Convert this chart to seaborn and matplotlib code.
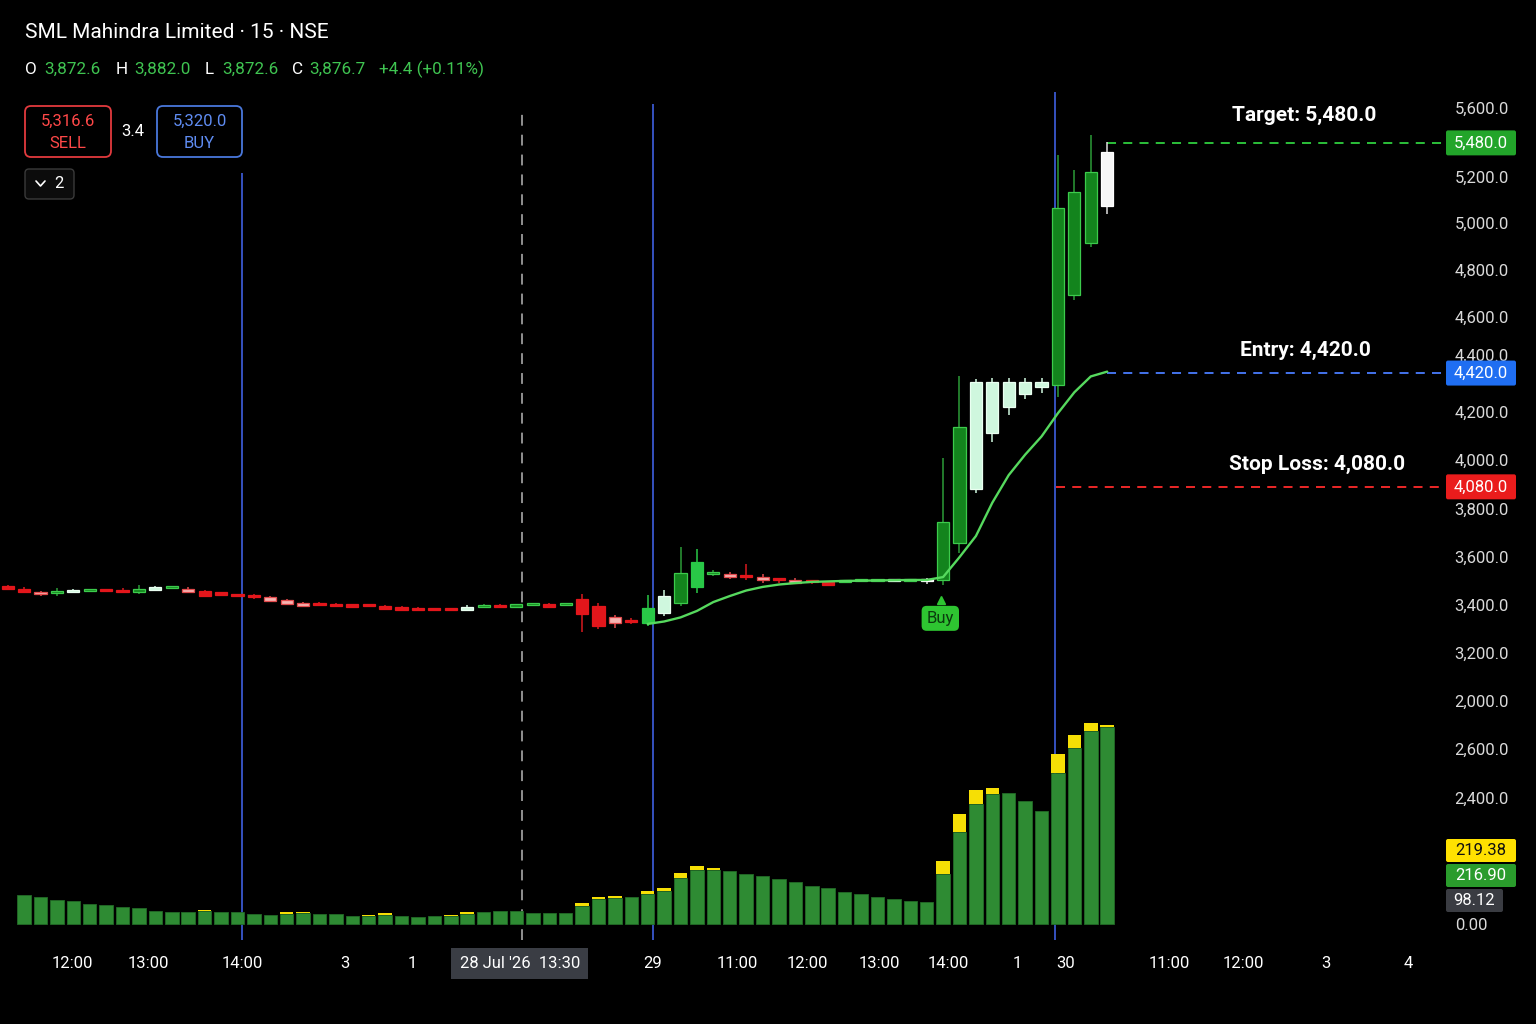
import numpy as np
import pandas as pd
import seaborn as sns
import matplotlib
matplotlib.use("Agg")
import matplotlib.pyplot as plt
from matplotlib.patches import FancyBboxPatch
from matplotlib.lines import Line2D
from matplotlib.transforms import IdentityTransform, offset_copy

W, H, DPI = 1536, 1024, 100

# ---------------- data ----------------
candle_open = [3472, 3464, 3451, 3447, 3451, 3452, 3457, 3459, 3451, 3459,
               3467, 3464, 3456, 3441, 3436, 3437, 3429, 3418, 3405, 3403,
               3398, 3395, 3393, 3393, 3387, 3382, 3378, 3376, 3376, 3386,
               3395, 3389, 3394, 3398, 3394, 3420, 3392, 3345, 3333, 3320,
               3361, 3405, 3470, 3526, 3525, 3516, 3514, 3501, 3500, 3492,
               3493, 3491, 3494, 3495, 3496, 3496, 3496, 3500, 3653, 3878,
               4111, 4220, 4275, 4305, 4312, 4688, 4905, 5058]
candle_high = [3479, 3470, 3456, 3468, 3462, 3462, 3461, 3468, 3480, 3476,
               3474, 3470, 3458, 3446, 3441, 3441, 3434, 3422, 3409, 3407,
               3402, 3399, 3397, 3397, 3391, 3386, 3381, 3379, 3395, 3398,
               3399, 3396, 3400, 3402, 3401, 3440, 3405, 3354, 3343, 3437,
               3458, 3636, 3628, 3542, 3535, 3565, 3525, 3510, 3510, 3497,
               3497, 3497, 3499, 3500, 3500, 3500, 3510, 4008, 4350, 4336,
               4340, 4340, 4340, 4340, 5271, 5208, 5354, 5326]
candle_low = [3458, 3444, 3432, 3434, 3448, 3449, 3451, 3444, 3443, 3456,
              3463, 3446, 3428, 3434, 3429, 3422, 3409, 3396, 3388, 3390,
              3386, 3385, 3387, 3375, 3372, 3371, 3373, 3372, 3372, 3382,
              3382, 3385, 3390, 3383, 3391, 3285, 3295, 3299, 3317, 3308,
              3350, 3392, 3447, 3517, 3503, 3500, 3489, 3489, 3482, 3485,
              3475, 3487, 3490, 3492, 3493, 3493, 3485, 3479, 3611, 3864,
              4076, 4187, 4253, 4280, 4264, 4667, 4889, 5025]
candle_close = [3464, 3451, 3440, 3449, 3459, 3459, 3455, 3451, 3464, 3472,
                3469, 3450, 3432, 3439, 3434, 3427, 3414, 3400, 3392, 3395,
                3390, 3389, 3391, 3379, 3376, 3374, 3376, 3375, 3388, 3392,
                3386, 3391, 3396, 3387, 3396, 3358, 3308, 3322, 3326, 3382,
                3433, 3530, 3575, 3530, 3511, 3512, 3500, 3499, 3489, 3490,
                3479, 3493, 3496, 3497, 3497, 3497, 3499, 3743, 4139, 4326,
                4326, 4326, 4326, 4326, 5049, 5118, 5201, 5282]
candle_style = list("RRPGLGRRGLGPRRRRPPPRRRRRRRRRLGRGGRGRRPRBLGBGPRPRPRRGGGLGWGGLLLLLGGGW")

ma_start = 39
ma_values = [3317, 3327, 3344, 3371, 3408, 3433, 3456, 3471, 3481, 3487,
             3492, 3494, 3496, 3497, 3498, 3499, 3500, 3500, 3512, 3595,
             3683, 3822, 3937, 4022, 4098, 4195, 4282, 4348, 4368]

vol_start = 1
vol_green = [31.9, 29.4, 26.7, 25.0, 22.0, 21.2, 19.0, 17.6, 14.0, 12.9,
             12.9, 14.0, 12.9, 12.9, 11.3, 9.9, 10.7, 11.8, 11.3, 10.7,
             8.8, 8.5, 9.6, 9.1, 8.0, 8.5, 8.8, 11.3, 13.2, 14.3,
             14.0, 12.1, 12.1, 12.1, 19.8, 27.2, 28.3, 30.0, 33.3, 36.3,
             50.9, 59.1, 59.7, 58.0, 55.3, 53.1, 49.5, 46.5, 42.1, 39.3,
             35.2, 32.7, 29.7, 27.0, 25.6, 24.2, 54.7, 101.5, 132.0, 143.0,
             143.8, 135.6, 124.6, 166.4, 193.9, 212.3, 216.9]
vol_yellow = [0, 0, 0, 0, 0, 0, 0, 0, 0, 0,
              0, 1.1, 0, 0, 0, 0, 2.2, 1.1, 0, 0,
              0, 1.8, 2.9, 0, 0, 0, 1.1, 2.2, 0, 0,
              0, 0, 0, 0, 3.3, 2.5, 2.9, 0, 3.3, 3.0,
              5.2, 4.7, 2.2, 0, 0, 0, 0, 0, 0, 0,
              0, 0, 0, 0, 0, 0, 14.6, 19.5, 15.4, 6.6,
              0, 0, 0, 20.2, 14.3, 8.5, 2.48]

xtick_pos = [3.92, 8.55, 14.28, 20.55, 24.64, 31.2, 39.32, 44.44, 48.71,
             53.1, 57.3, 61.5, 64.49, 70.77, 75.28, 80.34, 85.33]
xtick_labels = ["12:00", "13:00", "14:00", "3", "1", "28 Jul '26  13:30", "29",
                "11:00", "12:00", "13:00", "14:00", "1", "30", "11:00", "12:00",
                "3", "4"]

ytick_pos = [5467, 5179, 4988, 4792, 4596, 4440, 4200, 4000, 3796, 3596,
             3396, 3196, 2996, 2796, 2592]
ytick_labels = ["5,600.0", "5,200.0", "5,000.0", "4,800.0", "4,600.0", "4,400.0",
                "4,200.0", "4,000.0", "3,800.0", "3,600.0", "3,400.0", "3,200.0",
                "2,000.0", "2,600.0", "2,400.0"]

level_names = ["Target", "Entry", "Stop Loss"]
level_values = ["5,480.0", "4,420.0", "4,080.0"]
level_pos = [5321, 4362, 3888]
level_start = [67, 67, 63.9]
level_colors = ["#2fcf3f", "#4a7dff", "#ff2b2b"]
level_box_colors = ["#22a52a", "#1f6ef2", "#ea1c1c"]

session_x = [14.28, 39.32, 63.83]
session_top = [5196, 5483, 5533]
day_marker_x = 31.34
day_marker_top = 5446

buy_index = 57

vol_labels = ["219.38", "216.90", "98.12"]

# ---------------- style ----------------
sns.set_theme(style="dark", rc={"axes.facecolor": "black",
                                 "figure.facecolor": "black",
                                 "axes.edgecolor": "black",
                                 "text.color": "white"})
plt.rcParams["font.family"] = ["Roboto", "DejaVu Sans"]

fig = plt.figure(figsize=(W / DPI, H / DPI), dpi=DPI, facecolor="black")
ax = fig.add_axes([0, 84 / H, 1445 / W, 848 / H])
ax.set_facecolor("black")
ax.set_xlim(-0.469, 87.585)
ax.set_ylim(2000, 5533)
ax.grid(False)
for s in ax.spines.values():
    s.set_visible(False)

axv = ax.twinx()
axv.set_ylim(-17.6, 915.2)
axv.grid(False)
for s in axv.spines.values():
    s.set_visible(False)

# session lines
ax.vlines(session_x, 2000, session_top, colors="#3f5fe0", lw=1.2, zorder=1)
ax.vlines([day_marker_x], 2000, [day_marker_top], colors="#9c9c9c", lw=1.3,
          linestyles=(0, (6, 5)), zorder=1)

# candles
style_map = {
    "R": ("#e3161b", "#e3161b", "#d81a1f"),
    "P": ("#f6b5b2", "#e24a4c", "#e24a4c"),
    "G": ("#13841d", "#3ccb4c", "#2c9c38"),
    "B": ("#29c847", "#29c847", "#29c847"),
    "L": ("#cff7de", "#eafff1", "#cff7de"),
    "W": ("#f6f6f6", "#ffffff", "#e0e0e0"),
}
idx = np.arange(len(candle_open))
for i in idx:
    o, h, l, c = candle_open[i], candle_high[i], candle_low[i], candle_close[i]
    fc, ec, wc = style_map[candle_style[i]]
    ax.vlines(i, l, h, colors=wc, lw=1.1, zorder=3)
    lo = min(o, c)
    ht = max(abs(c - o), 9)
    ax.bar(i, ht, bottom=lo, width=0.74, color=fc, edgecolor=ec, lw=0.9, zorder=4)

# moving average
ma_df = pd.DataFrame({"x": np.arange(ma_start, ma_start + len(ma_values)),
                      "y": ma_values})
sns.lineplot(data=ma_df, x="x", y="y", ax=ax, color="#56d95e", lw=1.7, zorder=5)
ax.set_xlabel("")
ax.set_ylabel("")

# levels
for k in range(3):
    ax.hlines(level_pos[k], level_start[k], 87.585, colors=level_colors[k],
              lw=1.3, linestyles=(0, (5, 4)), zorder=2)
label_x = [79.0, 79.1, 79.8]
label_dy = [20, 16, 16]
for k in range(3):
    ax.annotate(f"{level_names[k]}: {level_values[k]}", xy=(label_x[k], level_pos[k]),
                xytext=(0, label_dy[k]), textcoords="offset points",
                ha="center", va="center", color="white", fontsize=15,
                fontweight="semibold", zorder=6)

# buy marker
ax.annotate("Buy", xy=(buy_index, candle_low[buy_index]), xytext=(-2, -24),
            textcoords="offset points", ha="center", va="center", fontsize=12,
            color="#0b3a0e",
            bbox=dict(boxstyle="round,pad=0.3,rounding_size=0.3", fc="#2ec531", ec="none"),
            zorder=6)
ax.plot([buy_index], [candle_low[buy_index]], marker="^", ms=6, color="#2ec531",
        transform=offset_copy(ax.transData, fig=fig, x=-1.5, y=-11, units="points"),
        zorder=6)

# volume
vx = np.arange(vol_start, vol_start + len(vol_green))
axv.bar(vx, vol_green, width=0.82, color="#2e8b33", edgecolor="#226b27", lw=0.6, zorder=2)
axv.bar(vx, vol_yellow, bottom=vol_green, width=0.82, color="#f6df05",
        edgecolor="none", zorder=2)

# ticks
ax.set_xticks(xtick_pos, xtick_labels)
ax.tick_params(axis="x", colors="white", labelsize=12, length=0, pad=11.5)
ax.get_xticklabels()[5].set_bbox(dict(boxstyle="square,pad=0.5", fc="#3a3d44", ec="none"))
ax.yaxis.tick_right()
ax.set_yticks(ytick_pos, ytick_labels)
ax.tick_params(axis="y", colors="#dadada", labelsize=12, length=0, pad=7)
axv.set_yticks([0], ["0.00"])
axv.tick_params(axis="y", colors="#dadada", labelsize=12, length=0, pad=7)
axv.set_ylabel("")

# ---------------- overlays in pixel coordinates ----------------
ID = IdentityTransform()


def pbox(x0, y0, x1, y1, fc, ec="none", lw=0, r=3):
    p = FancyBboxPatch((x0, H - y1), x1 - x0, y1 - y0,
                       boxstyle=f"round,pad=0,rounding_size={r}",
                       fc=fc, ec=ec, lw=lw, transform=ID, zorder=10)
    fig.add_artist(p)


def ptext(x, y, s, **kw):
    kw.setdefault("va", "center")
    kw.setdefault("zorder", 11)
    fig.text(x, H - y, s, transform=ID, **kw)


# level boxes on the axis
for k in range(3):
    yd = ax.transData.transform((0, level_pos[k]))[1]
    yc = H - yd
    pbox(1446, yc - 12.5, 1516, yc + 12.5, level_box_colors[k], r=2)
    ptext(1481, yc, level_values[k], ha="center", fontsize=12, color="white")

# volume value boxes
pbox(1446, 839, 1516, 862, "#ffe100", r=2)
ptext(1481, 850.5, vol_labels[0], ha="center", fontsize=12, color="#111111")
pbox(1446, 864, 1516, 887, "#2a9c2c", r=2)
ptext(1481, 875.5, vol_labels[1], ha="center", fontsize=12, color="white")
pbox(1446, 889, 1503, 912, "#3a3c42", r=2)
ptext(1474.5, 900.5, vol_labels[2], ha="center", fontsize=12, color="white")

# header
ptext(25, 33, "SML Mahindra Limited · 15 · NSE", ha="left", fontsize=15, color="white")
hdr = [("O", 25, "white"), ("3,872.6", 44, "#3fc451"), ("H", 116, "white"),
       ("3,882.0", 134, "#3fc451"), ("L", 205, "white"), ("3,872.6", 222, "#3fc451"),
       ("C", 292, "white"), ("3,876.7", 309, "#3fc451"), ("+4.4 (+0.11%)", 379, "#3fc451")]
for s, x, c in hdr:
    ptext(x, 69, s, ha="left", fontsize=12.3, color=c)

# sell / buy boxes
pbox(25, 106, 111, 157, "black", ec="#e23a3e", lw=1.3, r=6)
ptext(68, 121, "5,316.6", ha="center", fontsize=12, color="#ff4848")
ptext(68, 143, "SELL", ha="center", fontsize=12, color="#ff4848")
ptext(133, 131, "3.4", ha="center", fontsize=12, color="white")
pbox(157, 106, 242, 157, "black", ec="#4a78dc", lw=1.3, r=6)
ptext(199.5, 121, "5,320.0", ha="center", fontsize=12, color="#5f8cf2")
ptext(199.5, 143, "BUY", ha="center", fontsize=12, color="#5f8cf2")

# dropdown
pbox(25, 169, 74, 199, "#0c0c0c", ec="#3a3a3a", lw=1.0, r=4)
fig.add_artist(Line2D([36, 40.5, 45], [H - 181, H - 186, H - 181], color="white",
                      lw=1.2, transform=ID, zorder=11))
ptext(58.5, 184, "2", ha="center", fontsize=12, color="white")

fig.savefig("out.png", dpi=DPI, facecolor="black")
